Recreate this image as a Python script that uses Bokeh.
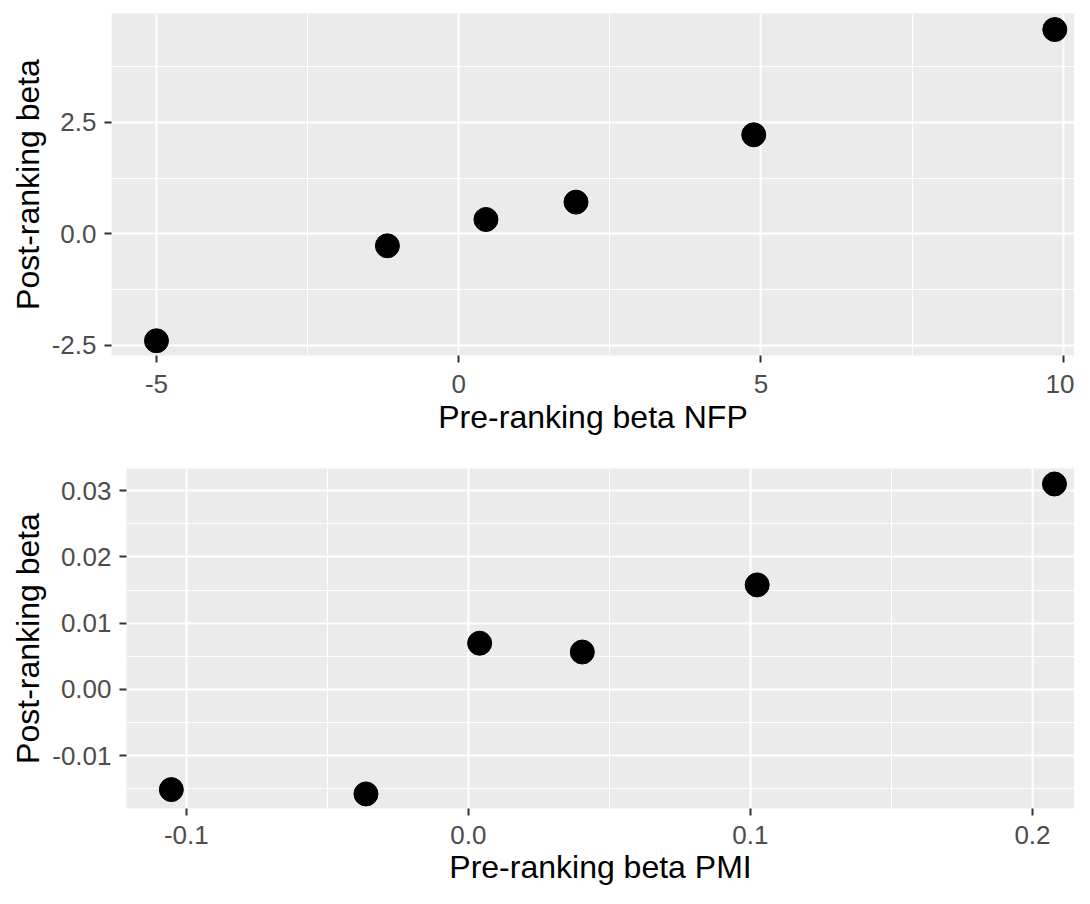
from bokeh.plotting import figure
from bokeh.layouts import column
from bokeh.models import Range1d, FixedTicker
from bokeh.embed import file_html
from bokeh.resources import INLINE

# ---- data: top panel (NFP) ----
nfp_pre = [-5.00, -1.18, 0.45, 1.94, 4.88, 9.86]
nfp_post = [-2.40, -0.27, 0.32, 0.71, 2.22, 4.58]
nfp_xticks = [-5, 0, 5, 10]
nfp_xtick_labels = ["-5", "0", "5", "10"]
nfp_xminor = [-2.5, 2.5, 7.5]
nfp_yticks = [-2.5, 0.0, 2.5]
nfp_ytick_labels = ["-2.5", "0.0", "2.5"]
nfp_yminor = [-1.25, 1.25, 3.75]

# ---- data: bottom panel (PMI) ----
pmi_pre = [-0.1053, -0.0363, 0.0040, 0.0404, 0.1024, 0.2078]
pmi_post = [-0.01513, -0.01578, 0.00697, 0.00564, 0.01577, 0.0310]
pmi_xticks = [-0.1, 0.0, 0.1, 0.2]
pmi_xtick_labels = ["-0.1", "0.0", "0.1", "0.2"]
pmi_xminor = [-0.05, 0.05, 0.15]
pmi_yticks = [-0.01, 0.00, 0.01, 0.02, 0.03]
pmi_ytick_labels = ["-0.01", "0.00", "0.01", "0.02", "0.03"]
pmi_yminor = [-0.015, -0.005, 0.005, 0.015, 0.025]

FONT = "Liberation Sans"


def make_panel(xs, ys, xr, yr, xt, xtl, xm, yt, ytl, ym, xlabel, ylabel,
               height, mb_left, mb_top, mb_bottom, x_std, x_lab_std):
    p = figure(width=1074, height=height,
               x_range=Range1d(*xr), y_range=Range1d(*yr),
               output_backend="svg", toolbar_location=None,
               min_border_left=mb_left, min_border_right=0,
               min_border_top=mb_top, min_border_bottom=mb_bottom)
    p.background_fill_color = "#EBEBEB"
    p.border_fill_color = "white"
    p.outline_line_color = None

    xtk = FixedTicker(ticks=xt, minor_ticks=xm)
    ytk = FixedTicker(ticks=yt, minor_ticks=ym)
    p.xaxis.ticker = xtk
    p.xgrid.ticker = xtk
    p.yaxis.ticker = ytk
    p.ygrid.ticker = ytk
    p.xaxis.major_label_overrides = {float(k): v for k, v in zip(xt, xtl)}
    p.yaxis.major_label_overrides = {float(k): v for k, v in zip(yt, ytl)}

    for g in (p.xgrid, p.ygrid):
        g.grid_line_color = "white"
        g.grid_line_width = 2
        g.minor_grid_line_color = "white"
        g.minor_grid_line_width = 1

    for ax in (p.xaxis, p.yaxis):
        ax.axis_line_color = None
        ax.major_tick_line_color = "#333333"
        ax.major_tick_line_width = 2
        ax.major_tick_out = 7
        ax.major_tick_in = 0
        ax.minor_tick_line_color = None
        ax.major_label_text_font = FONT
        ax.major_label_text_font_size = "26px"
        ax.major_label_text_color = "#4D4D4D"
        ax.axis_label_text_font = FONT
        ax.axis_label_text_font_size = "32px"
        ax.axis_label_text_font_style = "normal"
        ax.axis_label_text_color = "black"

    p.xaxis.axis_label = xlabel
    p.yaxis.axis_label = ylabel
    p.xaxis.major_label_standoff = x_std
    p.xaxis.axis_label_standoff = x_lab_std
    p.yaxis.major_label_standoff = 8
    p.yaxis.axis_label_standoff = 3

    p.scatter(xs, ys, size=24, color="black")
    return p


top = make_panel(nfp_pre, nfp_post, (-5.744, 10.186), (-2.73, 4.94),
                 nfp_xticks, nfp_xtick_labels, nfp_xminor,
                 nfp_yticks, nfp_ytick_labels, nfp_yminor,
                 "Pre-ranking beta NFP", "Post-ranking beta",
                 height=453, mb_left=111, mb_top=13, mb_bottom=98,
                 x_std=12, x_lab_std=3)

bottom = make_panel(pmi_pre, pmi_post, (-0.1212, 0.2149), (-0.01798, 0.03334),
                    pmi_xticks, pmi_xtick_labels, pmi_xminor,
                    pmi_yticks, pmi_ytick_labels, pmi_yminor,
                    "Pre-ranking beta PMI", "Post-ranking beta",
                    height=435, mb_left=126, mb_top=15, mb_bottom=80,
                    x_std=10, x_lab_std=2)

layout = column(column(top), column(bottom), spacing=0)

with open("out.html", "w") as f:
    f.write(file_html(layout, INLINE))
